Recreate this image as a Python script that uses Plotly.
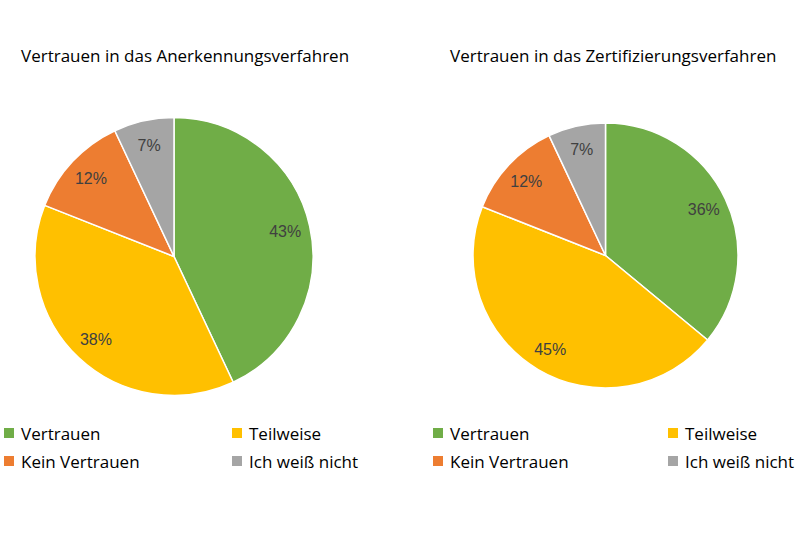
import plotly.graph_objects as go

categories = ["Vertrauen", "Teilweise", "Kein Vertrauen", "Ich weiß nicht"]
anerkennung = [43, 38, 12, 7]
zertifizierung = [36, 45, 12, 7]
titles = ["Vertrauen in das Anerkennungsverfahren", "Vertrauen in das Zertifizierungsverfahren"]
colors = ["#70AD47", "#FFC000", "#ED7D31", "#A5A5A5"]

W, H = 800, 533

def px_x(x):
    return x / W

def px_y(y):
    return 1 - y / H

fig = go.Figure()

domains = [
    dict(x=[px_x(35), px_x(313)], y=[px_y(396), px_y(117)]),
    dict(x=[px_x(473), px_x(738)], y=[px_y(388), px_y(123)]),
]

for vals, dom in zip([anerkennung, zertifizierung], domains):
    # filled pie, no text
    fig.add_trace(go.Pie(
        labels=categories,
        values=vals,
        sort=False,
        direction="clockwise",
        rotation=0,
        domain=dom,
        marker=dict(colors=colors, line=dict(color="white", width=1.5)),
        textinfo="none",
        showlegend=False,
        hoverinfo="label+value",
    ))
    # transparent ring carrying the data labels (places them towards the rim)
    fig.add_trace(go.Pie(
        labels=categories,
        values=vals,
        sort=False,
        direction="clockwise",
        rotation=0,
        hole=0.64,
        domain=dom,
        marker=dict(colors=["rgba(0,0,0,0)"] * len(vals), line=dict(width=0)),
        texttemplate="%{value}%",
        textposition="inside",
        insidetextorientation="horizontal",
        textfont=dict(family="Liberation Sans, Arial, sans-serif", size=16, color="#404040"),
        showlegend=False,
        hoverinfo="skip",
    ))

# titles
title_pos = [(19, 55), (448, 55)]
for t, (x, y) in zip(titles, title_pos):
    fig.add_annotation(
        x=px_x(x), y=px_y(y), xref="paper", yref="paper",
        xanchor="left", yanchor="middle", showarrow=False,
        text=t, font=dict(family="Open Sans, Liberation Sans, sans-serif", size=17, color="#000000"),
    )

# custom 2x2 legends below each pie
legend_layouts = [
    [(4, 433), (232, 433), (4, 461), (232, 461)],
    [(433, 433), (668, 433), (433, 461), (668, 461)],
]
sq = 10
for layout_pos in legend_layouts:
    for cat, col, (x, y) in zip(categories, colors, layout_pos):
        fig.add_shape(
            type="rect", xref="paper", yref="paper",
            x0=px_x(x), x1=px_x(x + sq), y0=px_y(y + sq / 2), y1=px_y(y - sq / 2),
            fillcolor=col, line=dict(width=0),
        )
        fig.add_annotation(
            x=px_x(x + sq + 5), y=px_y(y), xref="paper", yref="paper",
            xanchor="left", yanchor="middle", showarrow=False,
            text=cat, font=dict(family="Open Sans, Liberation Sans, sans-serif", size=17, color="#000000"),
        )

fig.update_layout(
    width=W, height=H,
    margin=dict(l=0, r=0, t=0, b=0),
    paper_bgcolor="white",
    plot_bgcolor="white",
)

fig.write_html("out.html")
